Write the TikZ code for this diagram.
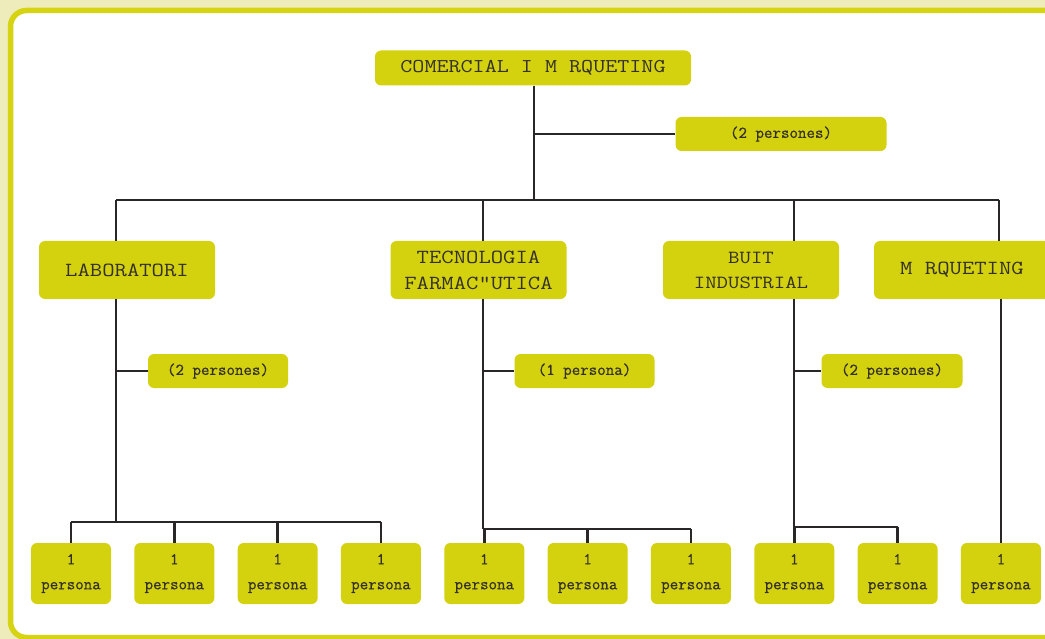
\documentclass[tikz,border=0pt]{standalone}
\usepackage{fontspec}
\newfontfamily\capsfont{Latin Modern Mono}[FakeStretch=1.2]
\newfontfamily\lowfont{Latin Modern Mono}[FakeBold=0.6]
\usetikzlibrary{positioning}

\definecolor{paper}{RGB}{239,236,188}
\definecolor{framecol}{RGB}{214,211,18}
\definecolor{boxyellow}{RGB}{212,210,14}
\definecolor{inkgrey}{RGB}{52,48,40}
\definecolor{linecol}{RGB}{40,38,38}

\begin{document}
\begin{tikzpicture}[x=1pt,y=-1pt,
    every node/.style={text=inkgrey, align=center, inner sep=0pt},
    head/.style={fill=boxyellow, rounded corners=6pt, minimum width=316pt,
      minimum height=35pt, font=\fontsize{19.5}{26}\selectfont\capsfont},
    dept/.style={fill=boxyellow, rounded corners=6pt, minimum width=176pt,
      minimum height=58pt, font=\fontsize{20}{26}\selectfont\capsfont},
    count/.style={fill=boxyellow, rounded corners=6pt, minimum height=34pt,
      font=\fontsize{16.5}{25}\selectfont\lowfont},
    leaf/.style={fill=boxyellow, rounded corners=6pt, minimum width=80pt,
      minimum height=61pt, font=\fontsize{16.5}{25}\selectfont\lowfont},
    link/.style={draw=linecol, line width=2.4pt}]
    \useasboundingbox (0,0) rectangle (1045,639);
    % Frame
    \fill[paper] (0,0) rectangle (1045,639);
    \draw[framecol, line width=5.5pt, fill=white, rounded corners=16pt]
      (10.5,10.5) rectangle (1075,637.5);

    % Top
    \node[head] (com) at (533,68) {COMERCIAL I M RQUETING};
    \node[count, minimum width=211pt] (comn) at (781,134) {(2 persones)};
    % Departments
    \node[dept] (lab) at (127,270) {LABORATORI};
    \node[dept] (tec) at (478.5,270) {TECNOLOGIA\\FARMAC"UTICA};
    \node[dept, font=\fontsize{18.5}{25}\selectfont\capsfont] (buit) at (751,270) {BUIT\\INDUSTRIAL};
    \node[dept] (mar) at (962,270) {M RQUETING};
    % Staff per department
    \node[count, minimum width=140pt] (labn) at (218,371) {(2 persones)};
    \node[count, minimum width=140pt] (tecn) at (584.5,371) {(1 persona)};
    \node[count, minimum width=141pt] (buitn) at (892,371) {(2 persones)};
    % People
    \foreach \i in {1,...,10} {
      \node[leaf] (p\i) at ({71+103.33*(\i-1)},573.5) {1\\persona};
    }

    % Junctions
    \coordinate (top) at (534,200);
    \coordinate (jl) at (116,200);
    \coordinate (jt) at (483,200);
    \coordinate (jb) at (794,200);
    \coordinate (jm) at (999,200);
    \coordinate (bl) at (116,522);
    \coordinate (bt) at (483,529);
    \coordinate (bb) at (794,527);

    % Top links
    \draw[link] (com.south -| top) -- (top);
    \draw[link] (comn.west -| top) -- (comn.west);
    \draw[link] (jl) -- (jm);
    \foreach \j/\n in {jl/lab, jt/tec, jb/buit, jm/mar} {
      \draw[link] (\j) -- (\j |- \n.north);
    }
    % Laboratori
    \draw[link] (bl |- lab.south) -- (bl);
    \draw[link] (labn.west -| bl) -- (labn.west);
    \draw[link] (bl -| p1) -- (bl -| p4);
    \foreach \k in {1,...,4} {
      \draw[link] (bl -| p\k) -- (p\k.north);
    }
    % Tecnologia
    \draw[link] (bt |- tec.south) -- (bt);
    \draw[link] (tecn.west -| bt) -- (tecn.west);
    \draw[link] (bt) -- (bt -| p7);
    \foreach \k in {5,6,7} {
      \draw[link] (bt -| p\k) -- (p\k.north);
    }
    % Buit
    \draw[link] (bb |- buit.south) -- (bb);
    \draw[link] (buitn.west -| bb) -- (buitn.west);
    \draw[link] (bb) -- (bb -| p9);
    \foreach \k in {8,9} {
      \draw[link] (bb -| p\k) -- (p\k.north);
    }
    % Marqueting
    \draw[link] (mar.south -| p10) -- (p10.north);
\end{tikzpicture}
\end{document}
